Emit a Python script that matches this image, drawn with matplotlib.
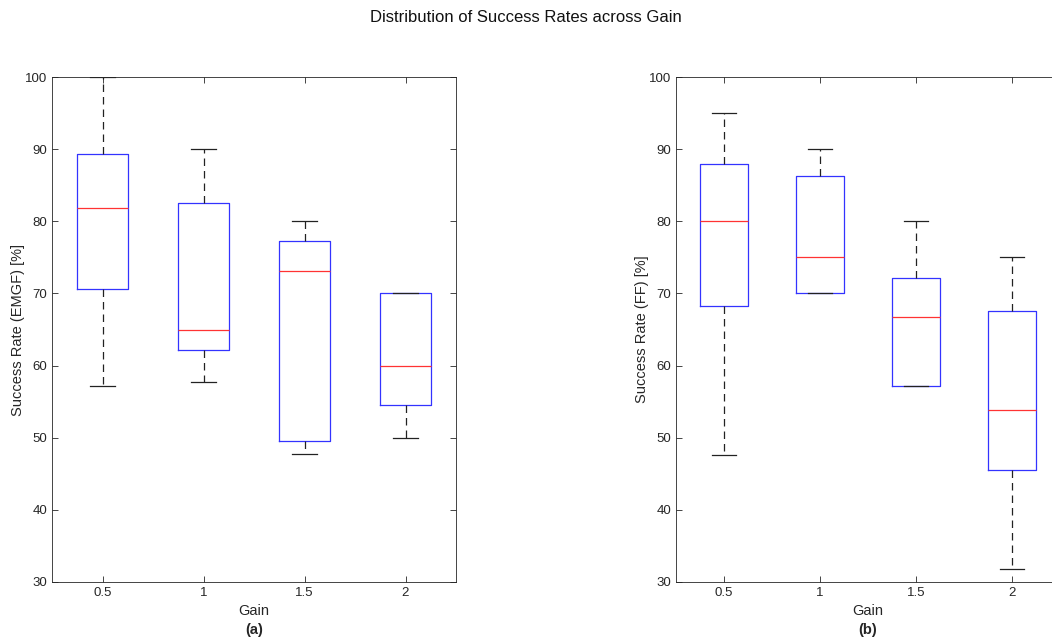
import matplotlib
matplotlib.use('Agg')
import matplotlib.pyplot as plt

plt.rcParams['font.family'] = ['Liberation Sans', 'DejaVu Sans']

gains = ['0.5', '1', '1.5', '2']

# (a) EMGF: whisker low, q1, median, q3, whisker high
emgf_lo  = [57.2, 57.7, 47.8, 50.0]
emgf_q1  = [70.6, 62.2, 49.5, 54.6]
emgf_med = [81.8, 65.0, 73.1, 60.0]
emgf_q3  = [89.3, 82.5, 77.2, 70.0]
emgf_hi  = [100.0, 90.0, 80.0, 70.0]

# (b) FF
ff_lo  = [47.6, 70.0, 57.2, 31.8]
ff_q1  = [68.2, 70.0, 57.2, 45.5]
ff_med = [80.0, 75.0, 66.7, 53.9]
ff_q3  = [88.0, 86.3, 72.2, 67.5]
ff_hi  = [95.0, 90.0, 80.0, 75.0]


def stats(lo, q1, med, q3, hi):
    return [dict(whislo=a, q1=b, med=c, q3=d, whishi=e, fliers=[])
            for a, b, c, d, e in zip(lo, q1, med, q3, hi)]


def draw(ax, st, ylabel, tag):
    ax.bxp(st, positions=range(1, len(st) + 1), widths=0.5, capwidths=0.25,
           showfliers=False,
           boxprops=dict(color='#3333ff', linewidth=0.9),
           medianprops=dict(color='#ff3333', linewidth=0.9),
           whiskerprops=dict(color='#222222', linewidth=0.9, linestyle=(0, (6, 4))),
           capprops=dict(color='#222222', linewidth=0.9))
    ax.set_xlim(0.5, 4.5)
    ax.set_ylim(30, 100)
    ax.set_yticks(range(30, 101, 10))
    ax.set_xticks(range(1, 5))
    ax.set_xticklabels(gains)
    ax.tick_params(direction='in', top=True, right=True, labelsize=9.5,
                   colors='#262626', length=4, width=0.6)
    for s in ax.spines.values():
        s.set_color('#262626')
        s.set_linewidth(0.6)
    ax.set_ylabel(ylabel, fontsize=10.5, color='#262626', labelpad=0)
    ax.set_xlabel('Gain', fontsize=10.5, color='#262626', labelpad=4)
    ax.text(0.5, -0.095, tag, transform=ax.transAxes, ha='center', va='center',
            fontsize=10.5, fontweight='bold', color='#262626')


fig = plt.figure(figsize=(10.52, 6.38), dpi=100)
ax1 = fig.add_axes([52 / 1052, 1 - 582 / 638, 404 / 1052, 505 / 638])
ax2 = fig.add_axes([676 / 1052, 1 - 582 / 638, 384 / 1052, 505 / 638])

draw(ax1, stats(emgf_lo, emgf_q1, emgf_med, emgf_q3, emgf_hi), 'Success Rate (EMGF) [%]', '(a)')
draw(ax2, stats(ff_lo, ff_q1, ff_med, ff_q3, ff_hi), 'Success Rate (FF) [%]', '(b)')

fig.text(0.5, 1 - 18 / 638, 'Distribution of Success Rates across Gain',
         ha='center', va='center', fontsize=12, color='#111111')

fig.savefig('out.png', dpi=100)
